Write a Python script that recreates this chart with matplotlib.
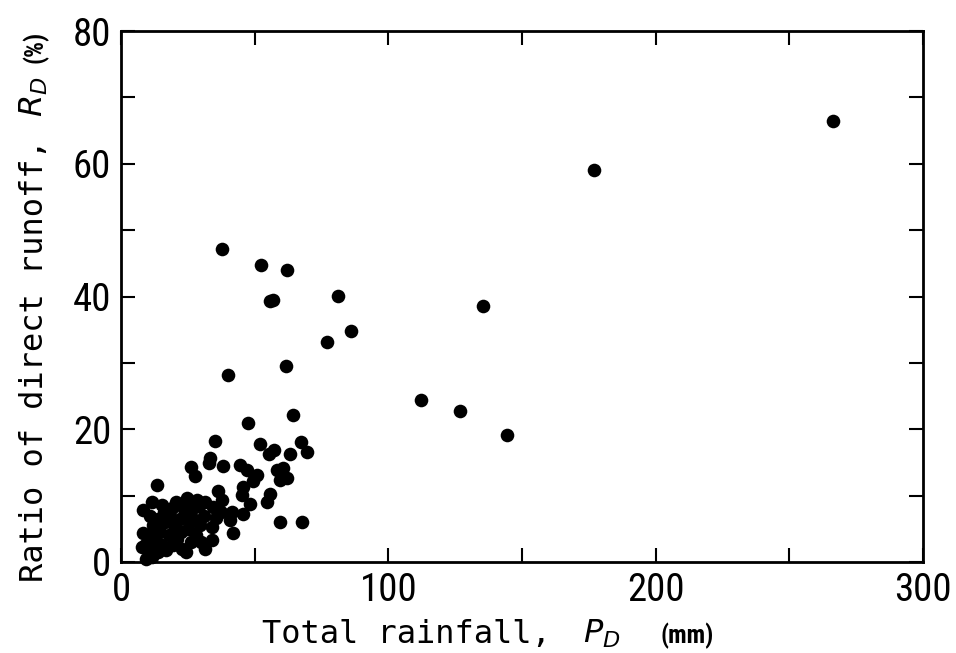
import matplotlib
matplotlib.use("Agg")
import matplotlib.pyplot as plt
from matplotlib.ticker import MultipleLocator

# ---- data ----
rain_mm = [
    266.4, 177.1, 135.4, 144.3, 126.8, 112.4,
    37.9, 52.3, 62.1, 55.6, 57.0, 81.0, 86.1, 77.1, 61.9, 39.9, 64.3, 47.6,
    35.3, 52.1, 67.5, 69.4, 63.2, 55.2, 57.4, 33.4, 33.0, 26.0, 27.5, 38.3,
    44.5, 47.0, 50.8, 49.5, 58.2, 60.7, 62.0, 59.5,
    13.4, 8.4, 15.2, 19.0, 24.6, 28.3, 23.5, 36.4, 37.7, 45.8, 45.2, 55.7,
    54.5, 48.3, 41.4, 40.8, 45.8, 42.0, 59.5, 67.6, 33.9, 33.9, 34.5, 35.5,
    37.5, 31.0, 29.5, 27.0, 25.0, 22.0, 20.0, 18.0, 16.5, 14.5, 13.0, 12.0,
    11.0, 10.0, 9.0, 7.7, 8.4, 10.8, 9.5, 11.5, 12.5, 14.0, 15.5, 17.0,
    19.5, 21.0, 23.0, 24.5, 26.0, 28.0, 30.0, 31.5, 22.5, 18.5, 24.0, 26.5,
    29.0, 31.5, 20.5, 16.0, 11.5, 14.0,
]
runoff_ratio = [
    66.4, 59.1, 38.6, 19.2, 22.7, 24.4,
    47.1, 44.7, 44.0, 39.3, 39.5, 40.1, 34.8, 33.2, 29.6, 28.2, 22.2, 21.0,
    18.2, 17.8, 18.1, 16.5, 16.3, 16.2, 16.8, 15.6, 14.9, 14.3, 13.0, 14.5,
    14.6, 13.9, 13.1, 12.2, 13.9, 14.2, 12.7, 12.3,
    11.6, 7.9, 8.6, 8.1, 9.7, 9.4, 8.0, 10.7, 9.4, 11.3, 10.1, 10.3,
    9.1, 8.8, 7.6, 6.3, 7.3, 4.3, 6.1, 6.1, 3.3, 5.3, 8.3, 6.7,
    7.5, 7.0, 5.5, 6.5, 5.0, 6.5, 5.5, 4.0, 6.0, 4.5, 3.0, 5.5,
    7.0, 4.0, 2.5, 2.3, 4.3, 1.3, 0.5, 0.8, 2.0, 1.5, 2.5, 1.8,
    2.5, 3.5, 2.0, 1.5, 3.0, 4.0, 3.0, 2.0, 4.5, 6.8, 6.8, 8.0,
    8.5, 9.0, 9.0, 7.5, 9.0, 6.5,
]

x_ticks = [0, 100, 200, 300]
y_ticks = [0, 20, 40, 60, 80]
x_label_parts = ["Total rainfall,", r"$P_D$", "(mm)"]
y_label_parts = ["Ratio of direct runoff,", r"$R_D$", "(%)"]

W, H = 956, 653
fig = plt.figure(figsize=(W / 100, H / 100), dpi=100)
ax = fig.add_axes([121 / W, 1 - 562 / H, (923 - 121) / W, (562 - 31) / H])

ax.plot(rain_mm, runoff_ratio, linestyle="none", marker="o", markersize=9.8,
        color="black", markeredgewidth=0, clip_on=False)

ax.set_xlim(0, 300)
ax.set_ylim(0, 80)
ax.set_xticks(x_ticks)
ax.set_yticks(y_ticks)
ax.xaxis.set_minor_locator(MultipleLocator(50))
ax.yaxis.set_minor_locator(MultipleLocator(10))
ax.tick_params(which="both", direction="in", top=True, right=True,
               length=10, width=1.5)
ax.tick_params(axis="x", which="major", labelsize=28, pad=7)
ax.tick_params(axis="y", which="major", labelsize=28, pad=7)
tick_family = ["Liberation Sans Narrow", "Roboto Condensed", "Roboto", "DejaVu Sans"]
for lab in ax.get_xticklabels() + ax.get_yticklabels():
    lab.set_family(tick_family)
for s in ax.spines.values():
    s.set_linewidth(2.0)

renderer = fig.canvas.get_renderer()
mono = "DejaVu Sans Mono"
small_family = ["Roboto Condensed", "DejaVu Sans"]

# ---- x label: pieces laid out left to right ----
x0, base_y = 262, H - 643
styles_x = [dict(fontsize=23, family=mono),
            dict(fontsize=23),
            dict(fontsize=18, fontweight="bold", family=small_family)]
gaps_x = [32, 40]
cur = x0
for i, (txt, st) in enumerate(zip(x_label_parts, styles_x)):
    t = fig.text(cur / W, base_y / H, txt, ha="left", va="baseline", **st)
    bb = t.get_window_extent(renderer)
    if i < len(gaps_x):
        cur = bb.x1 + gaps_x[i]

# ---- y label: pieces laid out bottom to top ----
base_x, y0 = 43, H - 582
styles_y = [dict(fontsize=23, family=mono),
            dict(fontsize=23),
            dict(fontsize=18, fontweight="bold", family=small_family)]
gaps_y = [22, 14]
cur = y0
for i, (txt, st) in enumerate(zip(y_label_parts, styles_y)):
    t = fig.text(base_x / W, cur / H, txt, ha="left", va="baseline",
                 rotation=90, rotation_mode="anchor", **st)
    bb = t.get_window_extent(renderer)
    if i < len(gaps_y):
        cur = bb.y1 + gaps_y[i]

fig.savefig("out.png", dpi=100)
